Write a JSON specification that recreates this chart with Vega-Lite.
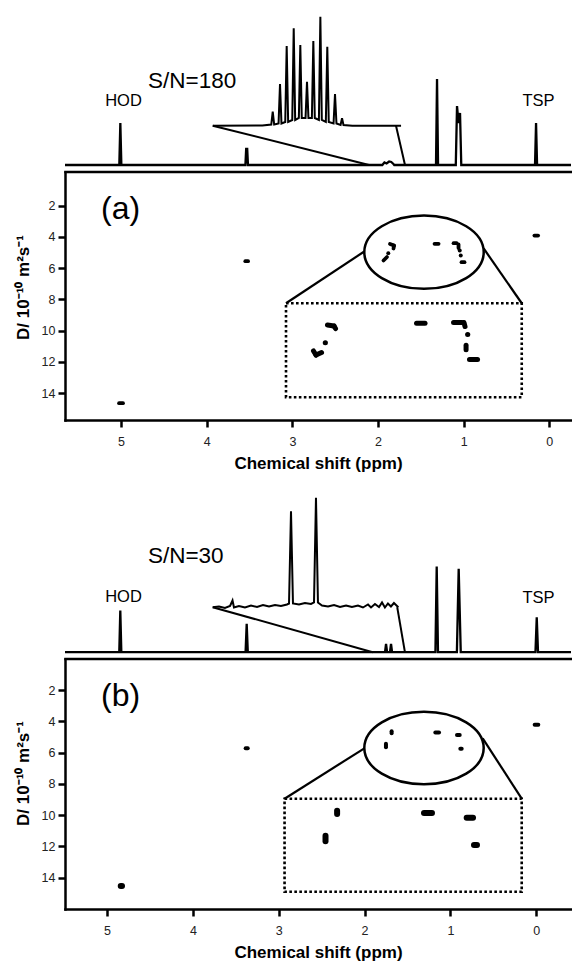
{
  "$schema": "https://vega.github.io/schema/vega-lite/v6.json",
  "padding": {"left": 14, "top": 0, "right": 0, "bottom": 0},
  "bounds": "flush",
  "spacing": 0,
  "config": {
    "view": {"stroke": null},
    "font": "Liberation Sans",
    "axis": {"grid": false, "domainColor": "black", "domainWidth": 2.5, "domainCap": "square", "tickColor": "black", "tickWidth": 2.5, "tickSize": 7, "labelFont": "Liberation Sans", "labelFontSize": 12.5, "labelColor": "#222", "titleFont": "Liberation Sans", "titleFontSize": 17, "titleFontWeight": "bold", "titleColor": "black"},
    "axisX": {"labelPadding": 8, "titlePadding": 8},
    "axisY": {"labelPadding": 3, "titlePadding": 9}
  },
  "datasets": {
    "specA": [{"ppm":-0.253,"v":0},{"ppm":0.143,"v":0},{"ppm":0.155,"v":42},{"ppm":0.167,"v":0},{"ppm":1.028,"v":0},{"ppm":1.0425,"v":52},{"ppm":1.060,"v":42},{"ppm":1.0775,"v":59},{"ppm":1.092,"v":0},{"ppm":1.299,"v":0},{"ppm":1.311,"v":86},{"ppm":1.323,"v":0},{"ppm":1.81,"v":0},{"ppm":1.82,"v":1},{"ppm":1.845,"v":3},{"ppm":1.87,"v":3.5},{"ppm":1.90,"v":1.5},{"ppm":1.925,"v":2.5},{"ppm":1.95,"v":0},{"ppm":3.518,"v":0},{"ppm":3.527,"v":16},{"ppm":3.539,"v":16},{"ppm":3.548,"v":0},{"ppm":4.996,"v":0},{"ppm":5.008,"v":42},{"ppm":5.020,"v":0},{"ppm":5.654,"v":0}],
    "insetA": [{"ppm":3.929,"v":39.3},{"ppm":3.35,"v":39.5},{"ppm":3.246,"v":40.5},{"ppm":3.229,"v":53.3},{"ppm":3.212,"v":40.5},{"ppm":3.161,"v":41.5},{"ppm":3.144,"v":81},{"ppm":3.127,"v":41.5},{"ppm":3.083,"v":43},{"ppm":3.066,"v":119},{"ppm":3.049,"v":43},{"ppm":3.001,"v":45},{"ppm":2.984,"v":136.7},{"ppm":2.967,"v":45},{"ppm":2.924,"v":47},{"ppm":2.907,"v":120},{"ppm":2.890,"v":47},{"ppm":2.846,"v":47},{"ppm":2.829,"v":83.3},{"ppm":2.812,"v":47},{"ppm":2.772,"v":47},{"ppm":2.755,"v":124},{"ppm":2.738,"v":47},{"ppm":2.690,"v":45},{"ppm":2.673,"v":148.3},{"ppm":2.656,"v":45},{"ppm":2.609,"v":43},{"ppm":2.592,"v":118.3},{"ppm":2.575,"v":43},{"ppm":2.519,"v":41.5},{"ppm":2.502,"v":71},{"ppm":2.485,"v":41.5},{"ppm":2.437,"v":40},{"ppm":2.420,"v":46.7},{"ppm":2.403,"v":40},{"ppm":2.30,"v":39.3},{"ppm":1.731,"v":39.3}],
    "leadA": [{"ppm":3.929,"v":39.3,"ppm2":2.105,"v2":0},{"ppm":1.790,"v":39.3,"ppm2":1.685,"v2":0}],
    "labA": [{"ppm":4.971,"v":59,"t":"HOD"},{"ppm":0.126,"v":59,"t":"TSP"}],
    "snA": [{"ppm":4.685,"v":76.7,"t":"S/N=180"}],
    "panA": [{"ppm":5.234,"v":2.85,"t":"(a)"}],
    "rectA": [{"ppm":3.074,"v":8.25,"ppm2":0.322,"v2":14.257}],
    "linkA": [{"ppm":2.160,"v":4.94,"ppm2":3.074,"v2":8.25},{"ppm":0.766,"v":4.749,"ppm2":0.322,"v2":8.25}],
    "ellA": [{"ppm":1.463,"v":4.986}],
    "spotsA": [
      {"ppm":5.023,"v":14.64,"ppm2":4.977,"v2":14.64},
      {"ppm":3.549,"v":5.56,"ppm2":3.517,"v2":5.56},
      {"ppm":0.174,"v":3.92,"ppm2":0.131,"v2":3.92},
      {"ppm":1.860,"v":4.462,"ppm2":1.813,"v2":4.558},
      {"ppm":1.813,"v":4.558,"ppm2":1.819,"v2":4.749},
      {"ppm":1.881,"v":5.05,"ppm2":1.879,"v2":5.05},
      {"ppm":1.936,"v":5.517,"ppm2":1.895,"v2":5.293},
      {"ppm":1.340,"v":4.449,"ppm2":1.293,"v2":4.449},
      {"ppm":1.118,"v":4.411,"ppm2":1.083,"v2":4.411},
      {"ppm":1.060,"v":4.494,"ppm2":1.060,"v2":4.717},
      {"ppm":1.047,"v":4.877,"ppm2":1.045,"v2":4.877},
      {"ppm":1.035,"v":5.197,"ppm2":1.033,"v2":5.197},
      {"ppm":1.025,"v":5.625,"ppm2":0.990,"v2":5.625}
    ],
    "zoomA": [
      {"ppm":2.590,"v":9.641,"ppm2":2.514,"v2":9.705},
      {"ppm":2.514,"v":9.705,"ppm2":2.496,"v2":9.865},
      {"ppm":2.616,"v":10.779,"ppm2":2.614,"v2":10.779},
      {"ppm":2.753,"v":11.303,"ppm2":2.724,"v2":11.559},
      {"ppm":2.724,"v":11.559,"ppm2":2.659,"v2":11.399},
      {"ppm":1.550,"v":9.526,"ppm2":1.451,"v2":9.526},
      {"ppm":1.118,"v":9.481,"ppm2":1.019,"v2":9.481},
      {"ppm":0.996,"v":9.481,"ppm2":0.984,"v2":9.737},
      {"ppm":0.954,"v":10.248,"ppm2":0.952,"v2":10.248},
      {"ppm":0.972,"v":10.93,"ppm2":0.972,"v2":11.22},
      {"ppm":0.932,"v":11.846,"ppm2":0.838,"v2":11.846}
    ],
    "specB": [{"ppm":-0.404,"v":0},{"ppm":-0.02,"v":0},{"ppm":-0.005,"v":35},{"ppm":0.01,"v":0},{"ppm":0.88,"v":0},{"ppm":0.904,"v":83.4},{"ppm":0.925,"v":0},{"ppm":1.145,"v":0},{"ppm":1.160,"v":85.7},{"ppm":1.175,"v":0},{"ppm":1.68,"v":0},{"ppm":1.692,"v":8.4},{"ppm":1.704,"v":0},{"ppm":1.738,"v":0},{"ppm":1.750,"v":8.4},{"ppm":1.762,"v":0},{"ppm":3.36,"v":0},{"ppm":3.373,"v":28.4},{"ppm":3.386,"v":0},{"ppm":4.833,"v":0},{"ppm":4.845,"v":41.7},{"ppm":4.857,"v":0},{"ppm":5.489,"v":0}],
    "insetB": [{"ppm":3.769,"v":45.0},{"ppm":3.696,"v":45.7},{"ppm":3.626,"v":44.2},{"ppm":3.567,"v":46.2},{"ppm":3.538,"v":51.7},{"ppm":3.521,"v":44.7},{"ppm":3.463,"v":46.2},{"ppm":3.393,"v":44.7},{"ppm":3.323,"v":46.7},{"ppm":3.253,"v":45.2},{"ppm":3.183,"v":47.2},{"ppm":3.113,"v":45.7},{"ppm":3.043,"v":47.2},{"ppm":2.974,"v":46.2},{"ppm":2.904,"v":47.7},{"ppm":2.880,"v":48.7},{"ppm":2.857,"v":141.0},{"ppm":2.834,"v":48.7},{"ppm":2.764,"v":47.7},{"ppm":2.694,"v":49.2},{"ppm":2.624,"v":48.2},{"ppm":2.589,"v":49.7},{"ppm":2.566,"v":154.4},{"ppm":2.543,"v":49.7},{"ppm":2.496,"v":46.7},{"ppm":2.426,"v":45.7},{"ppm":2.356,"v":47.2},{"ppm":2.286,"v":45.2},{"ppm":2.216,"v":46.7},{"ppm":2.147,"v":45.2},{"ppm":2.077,"v":46.7},{"ppm":2.019,"v":44.7},{"ppm":1.960,"v":47.7},{"ppm":1.925,"v":44.7},{"ppm":1.879,"v":48.2},{"ppm":1.832,"v":45.2},{"ppm":1.797,"v":49.7},{"ppm":1.763,"v":44.7},{"ppm":1.728,"v":48.7},{"ppm":1.693,"v":45.7},{"ppm":1.658,"v":49.2},{"ppm":1.607,"v":45.0}],
    "leadB": [{"ppm":3.769,"v":45,"ppm2":1.905,"v2":0},{"ppm":1.62,"v":45,"ppm2":1.53,"v2":0}],
    "labB": [{"ppm":4.808,"v":50,"t":"HOD"},{"ppm":-0.026,"v":49.7,"t":"TSP"}],
    "snB": [{"ppm":4.523,"v":89.7,"t":"S/N=30"}],
    "panB": [{"ppm":5.070,"v":3.02,"t":"(b)"}],
    "rectB": [{"ppm":2.932,"v":8.95,"ppm2":0.170,"v2":14.90}],
    "linkB": [{"ppm":2.003,"v":5.728,"ppm2":2.932,"v2":8.95},{"ppm":0.624,"v":5.09,"ppm2":0.170,"v2":8.95}],
    "ellB": [{"ppm":1.308,"v":5.708}],
    "spotsB": [
      {"ppm":0.019,"v":4.219,"ppm2":-0.023,"v2":4.219},
      {"ppm":3.385,"v":5.728,"ppm2":3.361,"v2":5.728},
      {"ppm":1.685,"v":4.641,"ppm2":1.685,"v2":4.769},
      {"ppm":1.751,"v":5.434,"ppm2":1.751,"v2":5.664},
      {"ppm":1.176,"v":4.718,"ppm2":1.133,"v2":4.718},
      {"ppm":0.924,"v":4.875,"ppm2":0.892,"v2":4.875},
      {"ppm":0.885,"v":5.75,"ppm2":0.869,"v2":5.75}
    ],
    "zoomB": [
      {"ppm":4.840,"v":14.53,"ppm2":4.825,"v2":14.53},
      {"ppm":2.320,"v":9.717,"ppm2":2.320,"v2":9.928},
      {"ppm":2.455,"v":11.316,"ppm2":2.455,"v2":11.674},
      {"ppm":1.308,"v":9.864,"ppm2":1.215,"v2":9.864},
      {"ppm":0.811,"v":10.165,"ppm2":0.737,"v2":10.165},
      {"ppm":0.726,"v":11.91,"ppm2":0.691,"v2":11.91}
    ]
  },
  "vconcat": [
    {
      "width": 506, "height": 171.5,
      "encoding": {
        "x": {"field": "ppm", "type": "quantitative", "scale": {"domain": [-0.253, 5.654], "reverse": true, "nice": false, "zero": false}, "axis": {"orient": "bottom", "ticks": false, "labels": false, "title": null}},
        "y": {"field": "v", "type": "quantitative", "scale": {"domain": [-6.5, 165], "nice": false, "zero": false}, "axis": null}
      },
      "layer": [
        {"data": {"name": "specA"}, "mark": {"type": "line", "color": "black", "strokeWidth": 2.3}},
        {"data": {"name": "insetA"}, "mark": {"type": "line", "color": "black", "strokeWidth": 2}},
        {"data": {"name": "leadA"}, "mark": {"type": "rule", "color": "black", "strokeWidth": 2}, "encoding": {"x2": {"field": "ppm2"}, "y2": {"field": "v2"}}},
        {"data": {"name": "labA"}, "mark": {"type": "text", "font": "Liberation Sans", "fontSize": 16.5, "align": "center", "baseline": "alphabetic", "color": "black"}, "encoding": {"text": {"field": "t"}}},
        {"data": {"name": "snA"}, "mark": {"type": "text", "font": "Liberation Sans", "fontSize": 22.5, "align": "left", "baseline": "alphabetic", "color": "black"}, "encoding": {"text": {"field": "t"}}}
      ]
    },
    {
      "width": 506, "height": 248,
      "encoding": {
        "x": {"field": "ppm", "type": "quantitative", "scale": {"domain": [-0.253, 5.654], "reverse": true, "nice": false, "zero": false}, "axis": {"values": [0, 1, 2, 3, 4, 5], "format": "d", "title": "Chemical shift (ppm)"}},
        "y": {"field": "v", "type": "quantitative", "scale": {"domain": [-0.142, 15.715], "reverse": true, "nice": false, "zero": false}, "axis": {"values": [2, 4, 6, 8, 10, 12, 14], "title": "D/ 10⁻¹⁰ m²s⁻¹", "titleY": 115}}
      },
      "layer": [
        {"data": {"name": "rectA"}, "mark": {"type": "rect", "filled": false, "color": "black", "strokeWidth": 2.6, "strokeDash": [2.6, 2.4]}, "encoding": {"x2": {"field": "ppm2"}, "y2": {"field": "v2"}}},
        {"data": {"name": "linkA"}, "mark": {"type": "rule", "color": "black", "strokeWidth": 2.2}, "encoding": {"x2": {"field": "ppm2"}, "y2": {"field": "v2"}}},
        {"data": {"name": "ellA"}, "mark": {"type": "point", "shape": "M -1 0 A 1 0.614 0 1 1 1 0 A 1 0.614 0 1 1 -1 0 Z", "size": 14256, "filled": false, "color": "black", "strokeWidth": 2.5, "opacity": 1}},
        {"data": {"name": "spotsA"}, "mark": {"type": "rule", "color": "black", "strokeWidth": 3.8, "strokeCap": "round"}, "encoding": {"x2": {"field": "ppm2"}, "y2": {"field": "v2"}}},
        {"data": {"name": "zoomA"}, "mark": {"type": "rule", "color": "black", "strokeWidth": 5, "strokeCap": "round"}, "encoding": {"x2": {"field": "ppm2"}, "y2": {"field": "v2"}}},
        {"data": {"name": "panA"}, "mark": {"type": "text", "font": "Liberation Sans", "fontSize": 32, "align": "left", "baseline": "alphabetic", "color": "black"}, "encoding": {"text": {"field": "t"}}}
      ]
    },
    {
      "width": 506, "height": 238.5,
      "encoding": {
        "x": {"field": "ppm", "type": "quantitative", "scale": {"domain": [-0.404, 5.489], "reverse": true, "nice": false, "zero": false}, "axis": {"orient": "bottom", "ticks": false, "labels": false, "title": null}},
        "y": {"field": "v", "type": "quantitative", "scale": {"domain": [-6.3, 232.2], "nice": false, "zero": false}, "axis": null}
      },
      "layer": [
        {"data": {"name": "specB"}, "mark": {"type": "line", "color": "black", "strokeWidth": 2.3}},
        {"data": {"name": "insetB"}, "mark": {"type": "line", "color": "black", "strokeWidth": 2}},
        {"data": {"name": "leadB"}, "mark": {"type": "rule", "color": "black", "strokeWidth": 2}, "encoding": {"x2": {"field": "ppm2"}, "y2": {"field": "v2"}}},
        {"data": {"name": "labB"}, "mark": {"type": "text", "font": "Liberation Sans", "fontSize": 16.5, "align": "center", "baseline": "alphabetic", "color": "black"}, "encoding": {"text": {"field": "t"}}},
        {"data": {"name": "snB"}, "mark": {"type": "text", "font": "Liberation Sans", "fontSize": 22.5, "align": "left", "baseline": "alphabetic", "color": "black"}, "encoding": {"text": {"field": "t"}}}
      ]
    },
    {
      "width": 506, "height": 250,
      "encoding": {
        "x": {"field": "ppm", "type": "quantitative", "scale": {"domain": [-0.404, 5.489], "reverse": true, "nice": false, "zero": false}, "axis": {"values": [0, 1, 2, 3, 4, 5], "format": "d", "title": "Chemical shift (ppm)"}},
        "y": {"field": "v", "type": "quantitative", "scale": {"domain": [0.018, 16.0], "reverse": true, "nice": false, "zero": false}, "axis": {"values": [2, 4, 6, 8, 10, 12, 14], "title": "D/ 10⁻¹⁰ m²s⁻¹", "titleY": 114}}
      },
      "layer": [
        {"data": {"name": "rectB"}, "mark": {"type": "rect", "filled": false, "color": "black", "strokeWidth": 2.6, "strokeDash": [2.6, 2.4]}, "encoding": {"x2": {"field": "ppm2"}, "y2": {"field": "v2"}}},
        {"data": {"name": "linkB"}, "mark": {"type": "rule", "color": "black", "strokeWidth": 2.2}, "encoding": {"x2": {"field": "ppm2"}, "y2": {"field": "v2"}}},
        {"data": {"name": "ellB"}, "mark": {"type": "point", "shape": "M -1 0 A 1 0.608 0 1 1 1 0 A 1 0.608 0 1 1 -1 0 Z", "size": 14256, "filled": false, "color": "black", "strokeWidth": 2.5, "opacity": 1}},
        {"data": {"name": "spotsB"}, "mark": {"type": "rule", "color": "black", "strokeWidth": 4, "strokeCap": "round"}, "encoding": {"x2": {"field": "ppm2"}, "y2": {"field": "v2"}}},
        {"data": {"name": "zoomB"}, "mark": {"type": "rule", "color": "black", "strokeWidth": 6, "strokeCap": "round"}, "encoding": {"x2": {"field": "ppm2"}, "y2": {"field": "v2"}}},
        {"data": {"name": "panB"}, "mark": {"type": "text", "font": "Liberation Sans", "fontSize": 32, "align": "left", "baseline": "alphabetic", "color": "black"}, "encoding": {"text": {"field": "t"}}}
      ]
    }
  ],
  "resolve": {"scale": {"x": "independent", "y": "independent"}}
}
